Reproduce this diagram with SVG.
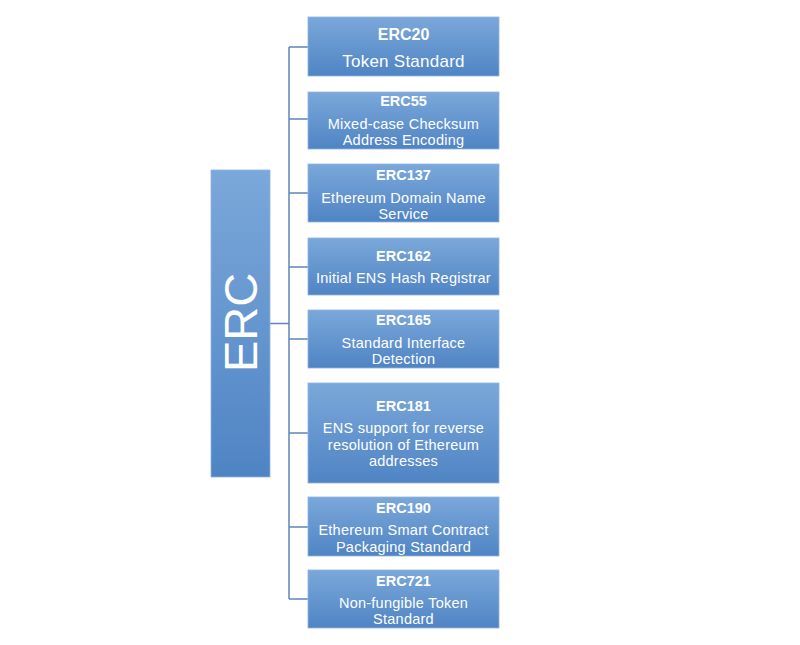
<svg xmlns="http://www.w3.org/2000/svg" width="800" height="645" viewBox="0 0 800 645">
<defs>
<linearGradient id="g" x1="0" y1="0" x2="0" y2="1">
<stop offset="0" stop-color="#7ba8da"/>
<stop offset="1" stop-color="#4f84c4"/>
</linearGradient>
</defs>
<style>
.box{fill:url(#g);stroke:#8fb3de;stroke-width:0.8}
.t{font-family:"Liberation Sans",Arial,sans-serif;fill:#fff;text-anchor:middle}
.h{font-size:14.5px;font-weight:bold}
.s{font-size:14.5px;letter-spacing:0.25px}
.c{stroke:#5f86b8;stroke-width:1.5;fill:none}
</style>
<rect x="0" y="0" width="800" height="645" fill="#fff"/>
<g id="connectors">
<path class="c" d="M289 47V599M270 323.5H289M289 47H308M289 119H308M289 193H308M289 267H308M289 339H308M289 433H308M289 527H308M289 599H308"/>
</g>
<g id="erc">
<rect class="box" x="211" y="170" width="59" height="307"/>
<text class="t" transform="translate(257 322.5) rotate(-90)" style="font-size:47px">ERC</text>
</g>
<g id="erc20">
<rect class="box" x="308" y="17" width="191" height="59"/>
<text class="t h" x="403.5" y="40" style="font-size:16px">ERC20</text>
<text class="t s" x="403.5" y="67" style="font-size:17px">Token Standard</text>
</g>
<g id="erc55">
<rect class="box" x="308" y="92" width="191" height="57"/>
<text class="t h" x="403.5" y="106">ERC55</text>
<text class="t s" x="403.5" y="129">Mixed-case Checksum</text>
<text class="t s" x="403.5" y="145">Address Encoding</text>
</g>
<g id="erc137">
<rect class="box" x="308" y="164" width="191" height="58"/>
<text class="t h" x="403.5" y="180">ERC137</text>
<text class="t s" x="403.5" y="203">Ethereum Domain Name</text>
<text class="t s" x="403.5" y="219">Service</text>
</g>
<g id="erc162">
<rect class="box" x="308" y="238" width="191" height="57"/>
<text class="t h" x="403.5" y="261">ERC162</text>
<text class="t s" x="403.5" y="283">Initial ENS Hash Registrar</text>
</g>
<g id="erc165">
<rect class="box" x="308" y="310" width="191" height="58"/>
<text class="t h" x="403.5" y="325">ERC165</text>
<text class="t s" x="403.5" y="348">Standard Interface</text>
<text class="t s" x="403.5" y="364">Detection</text>
</g>
<g id="erc181">
<rect class="box" x="308" y="383" width="191" height="100"/>
<text class="t h" x="403.5" y="411">ERC181</text>
<text class="t s" x="403.5" y="433">ENS support for reverse</text>
<text class="t s" x="403.5" y="450">resolution of Ethereum</text>
<text class="t s" x="403.5" y="466">addresses</text>
</g>
<g id="erc190">
<rect class="box" x="308" y="497" width="191" height="59"/>
<text class="t h" x="403.5" y="513">ERC190</text>
<text class="t s" x="403.5" y="535">Ethereum Smart Contract</text>
<text class="t s" x="403.5" y="552">Packaging Standard</text>
</g>
<g id="erc721">
<rect class="box" x="308" y="570" width="191" height="58"/>
<text class="t h" x="403.5" y="586">ERC721</text>
<text class="t s" x="403.5" y="608">Non-fungible Token</text>
<text class="t s" x="403.5" y="624">Standard</text>
</g>
</svg>
